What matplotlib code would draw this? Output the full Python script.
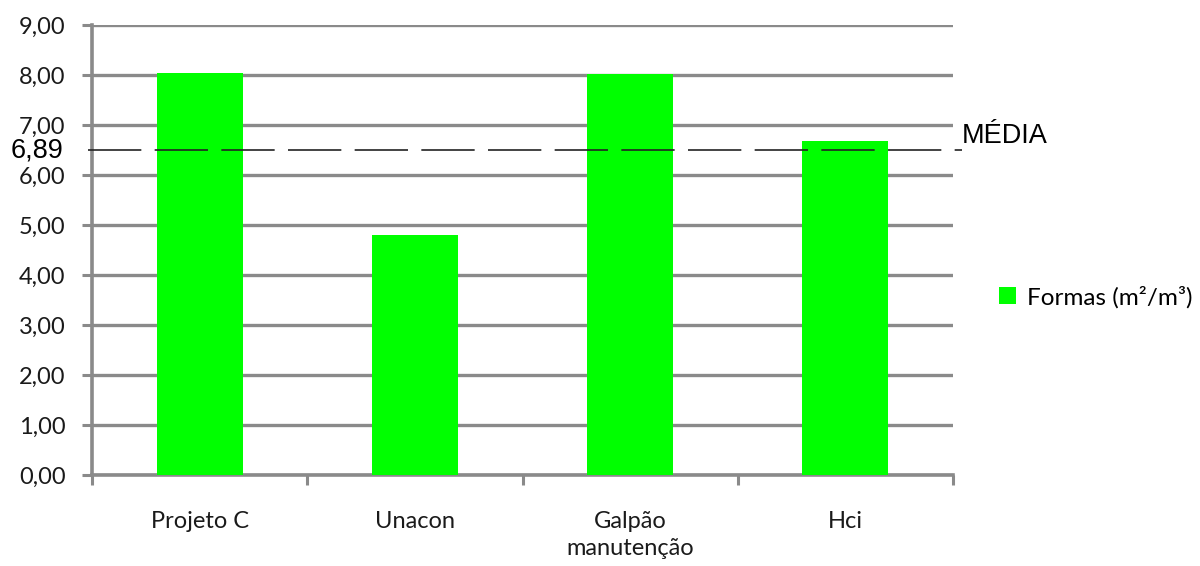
import matplotlib.pyplot as plt
import matplotlib.transforms as mtransforms
import numpy as np

categorias = ['Projeto C', 'Unacon', 'Galpão\nmanutenção', 'Hci']
formas = [8.04, 4.81, 8.02, 6.69]
media_rotulo = '6,89'
media_linha = 6.5  # posição em que a linha tracejada aparece no gráfico original
y_ticks = [0, 1, 2, 3, 4, 5, 6, 7, 8, 9]

cinza = '#8a8a8a'
verde = '#00ff00'

fig = plt.figure(figsize=(12, 5.66), dpi=100, facecolor='white')
ax = fig.add_axes([0.0767, 0.1608, 0.7175, 0.795])

x = np.arange(len(categorias))
ax.bar(x, formas, width=0.40, color=verde, zorder=3, label='Formas (m²/m³)')

ax.set_xlim(-0.5, len(categorias) - 0.5)
ax.set_ylim(0, 9)
ax.set_yticks(y_ticks)
ax.set_yticklabels([f'{v:.2f}'.replace('.', ',') for v in y_ticks],
                   fontsize=17, family='Lato', color='#1a1a1a')
ax.set_xticks(x)
ax.set_xticklabels(categorias, fontsize=17, family='Lato', color='#1a1a1a',
                   linespacing=1.35)
ax.tick_params(axis='x', length=0, pad=26)
ax.set_xticks(np.arange(len(categorias) + 1) - 0.5, minor=True)
ax.tick_params(axis='x', which='minor', length=7, width=2.2, color=cinza,
               direction='out')
ax.tick_params(axis='y', length=7, width=2.2, color=cinza, pad=12)

ax.grid(axis='y', color=cinza, linewidth=2.4, zorder=1)
for s in ['top', 'right']:
    ax.spines[s].set_visible(False)
for s in ['left', 'bottom']:
    ax.spines[s].set_color(cinza)
    ax.spines[s].set_linewidth(2.6)

# linha da média
ax.plot([-0.52, 3.54], [media_linha, media_linha], color='#222222',
        linewidth=1.2, dashes=(32, 8), clip_on=False, zorder=4)
ax.text(3.54, media_linha + 0.02, 'MÉDIA', fontsize=19.5, family='Liberation Sans',
        ha='left', va='bottom', color='black')
trans = mtransforms.blended_transform_factory(ax.transAxes, ax.transData)
ax.text(-0.0337, media_linha, media_rotulo, fontsize=19.5, family='Liberation Sans',
        ha='right', va='center', color='black', transform=trans)

fig.legend(loc='center left', bbox_to_anchor=(0.82, 0.475), frameon=False,
           prop={'family': 'Lato', 'size': 17.5}, handlelength=0.7,
           handleheight=0.7, handletextpad=0.45, borderaxespad=0.2)

fig.savefig('out.png', dpi=100, facecolor='white')
